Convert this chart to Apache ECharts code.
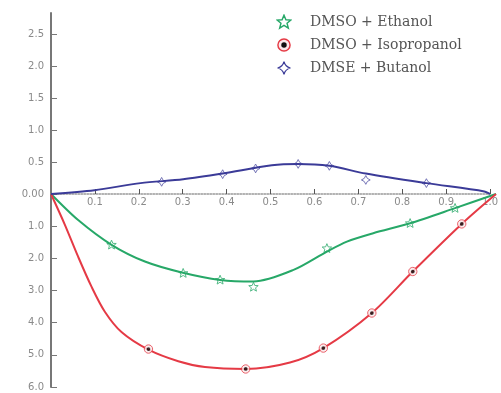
<!DOCTYPE html>
<html>
<head>
<meta charset="utf-8">
<script src="https://cdn.jsdelivr.net/npm/echarts@6/dist/echarts.min.js"></script>
<style>
  html, body { margin: 0; padding: 0; background: #fff; }
  #chart { width: 501px; height: 393px; }
</style>
</head>
<body>
<div id="chart"></div>
<script>
// mole fraction axis
const xTicks = [0.1, 0.2, 0.3, 0.4, 0.5, 0.6, 0.7, 0.8, 0.9, 1.0]

// DMSO + Ethanol (curve and markers)
const ethanolX = [0, 0.061, 0.136, 0.211, 0.294, 0.38, 0.455, 0.545, 0.62, 0.665, 0.724, 0.807, 0.908, 1.0]
const ethanolY = [0, -0.81, -1.58, -2.1, -2.44, -2.67, -2.72, -2.36, -1.79, -1.48, -1.22, -0.91, -0.44, 0]
const ethanolMarkX = [0.136, 0.297, 0.38, 0.455, 0.62, 0.807, 0.908]
const ethanolMarkY = [-1.58, -2.46, -2.67, -2.89, -1.69, -0.91, -0.44]

// DMSO + Isopropanol
const isoX = [0, 0.031, 0.061, 0.091, 0.121, 0.159, 0.219, 0.286, 0.346, 0.4375, 0.537, 0.612, 0.721, 0.813, 0.923, 1.0]
const isoY = [0, -0.95, -1.95, -2.88, -3.66, -4.3, -4.84, -5.2, -5.38, -5.44, -5.24, -4.79, -3.7, -2.41, -0.93, 0]
const isoMarkX = [0.219, 0.4375, 0.612, 0.721, 0.813, 0.923]
const isoMarkY = [-4.82, -5.44, -4.79, -3.7, -2.41, -0.93]

// DMSE + Butanol (positive side)
const butX = [0, 0.099, 0.204, 0.301, 0.391, 0.503, 0.563, 0.634, 0.717, 0.855, 0.987, 1.0]
const butY = [0, 0.06, 0.17, 0.23, 0.32, 0.45, 0.47, 0.44, 0.32, 0.17, 0.04, 0]
const butMarkX = [0.252, 0.391, 0.466, 0.563, 0.634, 0.717, 0.855]
const butMarkY = [0.19, 0.31, 0.4, 0.47, 0.44, 0.22, 0.17]

const names = ['DMSO + Ethanol', 'DMSO + Isopropanol', 'DMSE + Butanol']
const colors = ['#27a868', '#e53a45', '#3b3b98']

const zip = (xs, ys) => xs.map((x, i) => [x, ys[i]])
const svg = s => 'image://data:image/svg+xml;charset=utf-8,' + encodeURIComponent(
  "<svg xmlns='http://www.w3.org/2000/svg' width='20' height='20' viewBox='0 0 20 20'>" + s + '</svg>')

const starIcon = svg("<polygon points='10,1.5 12.4,7.3 18.6,7.6 13.8,11.5 15.4,17.6 10,14.2 4.6,17.6 6.2,11.5 1.4,7.6 7.6,7.3' fill='none' stroke='" + colors[0] + "' stroke-width='1.8'/>")
const ringIcon = svg("<circle cx='10' cy='10' r='7.6' fill='#fbe9ea' stroke='" + colors[1] + "' stroke-width='1.8'/><circle cx='10' cy='10' r='3.4' fill='#111'/>")
const diamondIcon = svg("<path d='M10,2 Q11.6,8.4 18,10 Q11.6,11.6 10,18 Q8.4,11.6 2,10 Q8.4,8.4 10,2 Z' fill='none' stroke='" + colors[2] + "' stroke-width='1.6'/>")
const icons = [starIcon, ringIcon, diamondIcon]

const labelFont = { fontFamily: 'DejaVu Sans', fontSize: 10, color: '#8a8a8a' }
const axisGray = '#777'

const chart = echarts.init(document.getElementById('chart'))

function curve(i, xs, ys, grid) {
  return {
    name: names[i], type: 'line', xAxisIndex: grid, yAxisIndex: grid,
    data: zip(xs, ys), smooth: 0.3, showSymbol: false,
    lineStyle: { color: colors[i], width: 2 }, itemStyle: { color: colors[i] },
    z: 2
  }
}
function marks(i, xs, ys, grid, size) {
  return {
    name: names[i], type: 'scatter', xAxisIndex: grid, yAxisIndex: grid,
    data: zip(xs, ys), symbol: icons[i], symbolSize: size,
    itemStyle: { color: colors[i] }, z: 3
  }
}

chart.setOption({
  animation: false,
  backgroundColor: '#fff',
  legend: {
    orient: 'vertical', left: 269, top: 9, itemGap: 7,
    itemWidth: 20, itemHeight: 16,
    textStyle: { fontFamily: 'DejaVu Serif', fontSize: 14, color: '#555', padding: [0, 0, 0, 11] },
    data: names.map((n, i) => ({ name: n, icon: icons[i] }))
  },
  grid: [
    { left: 51, right: 5, top: 13, height: 181 },
    { left: 51, right: 5, top: 194, height: 193 }
  ],
  xAxis: [
    {
      gridIndex: 0, type: 'value', min: 0, max: 1, interval: 0.1, position: 'bottom',
      axisLine: { onZero: false, lineStyle: { color: '#999', width: 1.5, type: 'dotted' } },
      axisTick: { inside: true, length: 5, lineStyle: { color: '#555' } },
      axisLabel: Object.assign({ margin: 3, showMinLabel: false,
        formatter: v => xTicks.some(t => Math.abs(t - v) < 1e-6) ? v.toFixed(1) : '' }, labelFont),
      splitLine: { show: false }
    },
    { gridIndex: 1, type: 'value', min: 0, max: 1, show: false }
  ],
  yAxis: [
    {
      gridIndex: 0, type: 'value', min: 0, max: 2.83, interval: 0.5,
      axisLine: { show: true, lineStyle: { color: axisGray, width: 2 } },
      axisTick: { show: true, inside: true, length: 6, lineStyle: { color: axisGray } },
      axisLabel: Object.assign({ margin: 7, showMaxLabel: false,
        formatter: v => v === 0 ? '0.00' : v.toFixed(1) }, labelFont),
      splitLine: { show: false }
    },
    {
      gridIndex: 1, type: 'value', min: -6, max: 0, interval: 1,
      axisLine: { show: true, onZero: false, lineStyle: { color: axisGray, width: 2 } },
      axisTick: { show: true, inside: true, length: 6, lineStyle: { color: axisGray } },
      axisLabel: Object.assign({ margin: 7, showMaxLabel: false,
        formatter: v => Math.abs(v).toFixed(1) }, labelFont),
      splitLine: { show: false }
    }
  ],
  series: [
    curve(0, ethanolX, ethanolY, 1),
    marks(0, ethanolMarkX, ethanolMarkY, 1, 11),
    curve(1, isoX, isoY, 1),
    marks(1, isoMarkX, isoMarkY, 1, 11),
    curve(2, butX, butY, 0),
    marks(2, butMarkX, butMarkY, 0, 11)
  ]
})
</script>
</body>
</html>
